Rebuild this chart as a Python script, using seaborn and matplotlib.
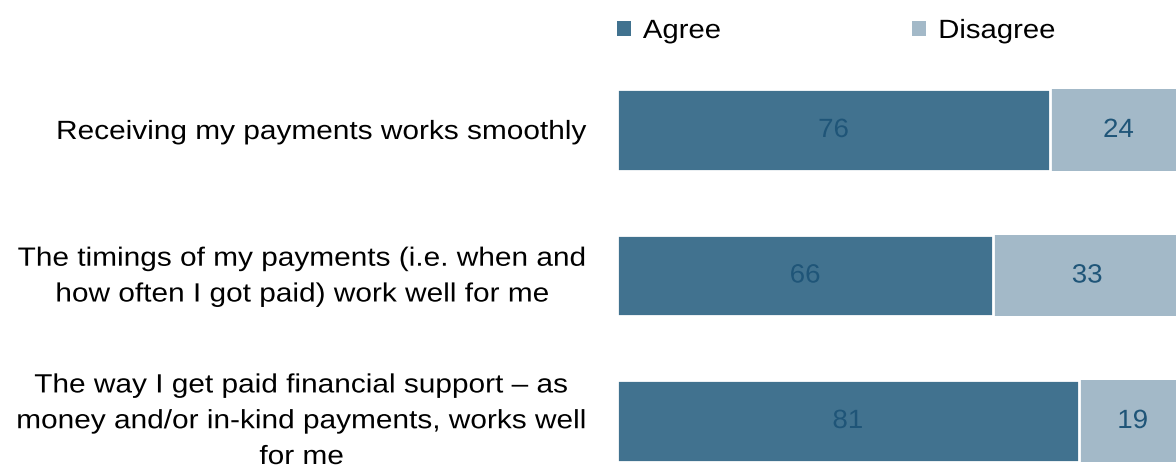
import matplotlib
matplotlib.use("Agg")
import matplotlib.pyplot as plt
from matplotlib.patches import Patch
from matplotlib.patheffects import AbstractPathEffect
from matplotlib.transforms import Affine2D
import seaborn as sns
import pandas as pd

statements = [
    "Receiving my payments works smoothly",
    "The timings of my payments (i.e. when and\nhow often I got paid) work well for me",
    "The way I get paid financial support \u2013 as\nmoney and/or in-kind payments, works well\nfor me",
]
agree = [76, 66, 81]
disagree = [24, 33, 19]
series_names = ["Agree", "Disagree"]

agree_color = "#41728F"
disagree_color = "#A3B9C8"
value_color = "#1F5578"
FS = 19


class HStretch(AbstractPathEffect):
    """Widen glyphs horizontally about a fixed display x."""

    def __init__(self, sx, x0):
        super().__init__()
        self.sx, self.x0 = sx, x0

    def draw_path(self, renderer, gc, tpath, affine, rgbFace=None):
        aff = affine + Affine2D().translate(-self.x0, 0).scale(self.sx, 1).translate(self.x0, 0)
        renderer.draw_path(gc, tpath, aff, rgbFace)


sns.set_theme(style="white")
plt.rcParams["font.family"] = ["Liberation Sans", "DejaVu Sans"]

df = pd.DataFrame({"statement": statements, "agree": agree, "disagree": disagree})
df["cumulative"] = df["agree"] + df["disagree"]

W, H = 1176, 466
fig = plt.figure(figsize=(W / 100, H / 100), dpi=100)
row_step = 145.5
ax_top = 130 - row_step / 2
ax_h = 3 * row_step
ax = fig.add_axes([617 / W, (H - ax_top - ax_h) / H, 1 - 617 / W, ax_h / H])

# Disagree drawn as full stacked length, Agree laid over it
sns.barplot(data=df, y="statement", x="cumulative", color=disagree_color,
            saturation=1, width=0.557, linewidth=0, ax=ax, orient="h")
sns.barplot(data=df, y="statement", x="agree", color=agree_color,
            saturation=1, width=0.557, edgecolor="white", linewidth=2,
            ax=ax, orient="h")

ax.set_xlim(0, 98.1)
ax.set_ylim(2.5, -0.5)
ax.set_xlabel("")
ax.set_ylabel("")
ax.set_xticks([])
ax.set_yticklabels([])
ax.tick_params(axis="y", length=0)
for s in ax.spines.values():
    s.set_visible(False)

# Category labels, right-aligned against the bars, lines centred;
# anchored on the baseline of the last line
stretch = {}
for i, text in enumerate(statements):
    n_lines = text.count("\n") + 1
    t = ax.annotate(text, xy=(0, i), xycoords=("axes fraction", "data"),
                    xytext=(-30, -9 - 17 * (n_lines - 1)), textcoords="offset pixels",
                    ha="right", va="baseline", multialignment="center",
                    linespacing=1.62, fontsize=FS, color="#000000",
                    annotation_clip=False)
    stretch[t] = 1.13

for i, (a, d) in enumerate(zip(agree, disagree)):
    t1 = ax.text(a / 2, i, f"{a}", ha="center", va="center", fontsize=FS, color=value_color)
    t2 = ax.text(a + d / 2, i, f"{d}", ha="center", va="center", fontsize=FS, color=value_color)
    stretch[t1] = stretch[t2] = 1.05

handles = [Patch(facecolor=agree_color, edgecolor="none"),
           Patch(facecolor=disagree_color, edgecolor="none")]
leg = fig.legend(handles, series_names, loc="center left",
                 bbox_to_anchor=(617 / W, 1 - 31 / H), ncol=2, frameon=False,
                 fontsize=FS, handlelength=0.53, handleheight=0.53,
                 handletextpad=0.45, columnspacing=7.55, borderaxespad=0, borderpad=0,
                 labelcolor="#000000")
for t in leg.get_texts():
    stretch[t] = 1.11

# Apply the horizontal widening about each text's own anchor
fig.canvas.draw()
for t, sx in stretch.items():
    bb = t.get_window_extent()
    ha = t.get_horizontalalignment()
    x0 = bb.x1 if ha == "right" else (bb.x0 if ha == "left" else (bb.x0 + bb.x1) / 2)
    t.set_path_effects([HStretch(sx, x0)])

fig.savefig("out.png", dpi=100)
